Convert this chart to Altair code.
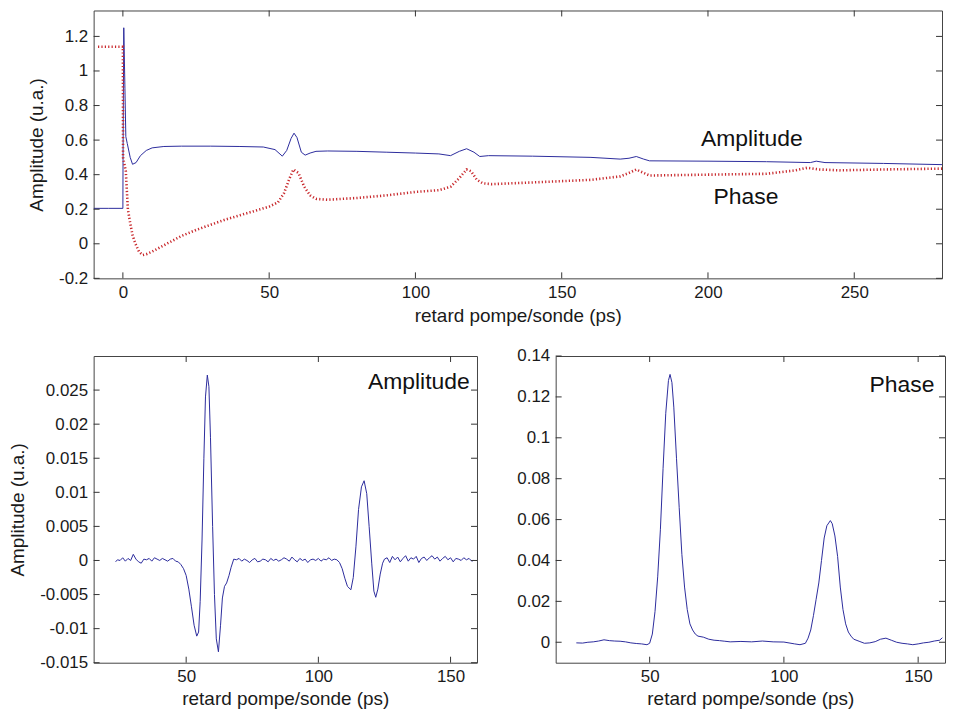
import altair as alt
import pandas as pd

FONT = "Liberation Sans"
BLUE = "#2b2b9c"
RED = "#c8282c"

# ---------------- top panel data ----------------
amp_x = [-10, -5, -0.3, 0.0, 0.05, 0.3, 0.7, 1.0, 1.5, 2.5, 3.3, 4.5, 6, 8, 10, 14, 20, 30, 40, 48, 52,
         54.5, 56, 57.5, 58.5, 59.5, 61, 62.3, 64, 66, 70, 80, 90, 100, 108, 112, 115, 117.5, 120,
         122, 125, 140, 160, 170, 173, 175.5, 178, 180, 200, 220, 235, 237, 240, 260, 280]
amp_y = [0.205, 0.205, 0.205, 0.205, 0.49, 1.25, 0.9, 0.62, 0.58, 0.5, 0.46, 0.47, 0.51, 0.54, 0.555,
         0.563, 0.565, 0.565, 0.563, 0.56, 0.545, 0.507, 0.54, 0.61, 0.64, 0.615, 0.53, 0.513, 0.525,
         0.535, 0.537, 0.535, 0.53, 0.525, 0.52, 0.51, 0.535, 0.55, 0.53, 0.505, 0.51, 0.507, 0.5,
         0.49, 0.495, 0.505, 0.49, 0.48, 0.478, 0.475, 0.47, 0.478, 0.47, 0.465, 0.458]

pha_x = [-8.5, -4, 0.0, 0.05, 1.0, 1.7, 2.5, 3.3, 4.3, 5.5, 6.7, 8, 10, 15, 20, 25, 30, 35, 40, 45, 50,
         53, 55, 57, 58.3, 60, 62, 64, 66, 70, 80, 90, 100, 108, 112, 115, 117.5, 119, 121, 123, 126,
         140, 160, 170, 173, 175.5, 178, 180, 200, 220, 230, 234, 238, 245, 260, 280]
pha_y = [1.14, 1.14, 1.14, 0.5, 0.42, 0.2, 0.12, 0.05, 0.0, -0.045, -0.065, -0.06, -0.045, 0.0, 0.045,
         0.08, 0.11, 0.14, 0.165, 0.19, 0.215, 0.24, 0.29, 0.38, 0.43, 0.41, 0.33, 0.28, 0.26, 0.255,
         0.265, 0.28, 0.3, 0.31, 0.33, 0.38, 0.43, 0.42, 0.37, 0.35, 0.345, 0.355, 0.37, 0.39, 0.41,
         0.43, 0.41, 0.395, 0.4, 0.405, 0.425, 0.44, 0.43, 0.425, 0.43, 0.435]

top_xticks = [0, 50, 100, 150, 200, 250]
top_yticks = [-0.2, 0, 0.2, 0.4, 0.6, 0.8, 1, 1.2]

# ---------------- bottom-left (amplitude difference), in segments ----------------
bl_x_a = [23.3] + list(range(24, 47))
bl_y_a = [-0.0002, 0.0001, 0.0, 0.0004, -0.0001, 0.0003, 0.0, 0.0009, 0.0002, -0.0002, -0.0004, 0.0002,
          0.0001, 0.0003, -0.0001, 0.0004, 0.0002, 0.0, 0.0003, 0.0001, -0.0001, 0.0002, 0.0003, -0.0001]
bl_x_b = [47, 48, 49, 50, 51, 52, 53, 54, 54.7, 55.3, 56, 56.7, 57.3, 58, 58.6, 59.2, 60, 60.7, 61.4, 62.2,
          63, 63.7, 64.5, 65.3, 66.2, 67, 68]
bl_y_b = [-0.0002, -0.0006, -0.0012, -0.0022, -0.0042, -0.0068, -0.0095, -0.0111, -0.0105, -0.006, 0.003,
          0.015, 0.024, 0.0272, 0.0255, 0.018, 0.005, -0.005, -0.0115, -0.0134, -0.0095, -0.0055, -0.0038,
          -0.0033, -0.0022, -0.001, 0.0002]
bl_x_c = list(range(69, 108))
bl_y_c = [0.0001, 0.0003, -0.0001, 0.0002, 0.0, -0.0003, 0.0001, 0.0003, -0.0002, -0.0001,
          0.0002, 0.0001, -0.0002, 0.0003, 0.0, 0.0002, -0.0001, 0.0001, 0.0004, 0.0002,
          -0.0001, 0.0005, 0.0001, -0.0002, 0.0003, 0.0, 0.0002, -0.0003, 0.0001, 0.0002,
          0.0, 0.0003, -0.0001, 0.0002, 0.0001, 0.0004, 0.0, 0.0002, 0.0001]
bl_x_d = [108, 109, 110, 111, 112.3, 113.2, 114.2, 115.2, 116.3, 117.3, 118.3, 119.2, 120.2, 121, 121.7,
          122.5, 123.4, 124.3, 125]
bl_y_d = [-0.0003, -0.0012, -0.0026, -0.0038, -0.0043, -0.0025, 0.002, 0.0075, 0.0108, 0.0117, 0.0098,
          0.005, -0.0005, -0.0045, -0.0054, -0.0042, -0.002, -0.0004, 0.0002]
bl_x_e = list(range(126, 159)) + [158.6]
bl_y_e = [0.0004, -0.0003, 0.0006, 0.0001, 0.0005, -0.0002, 0.0003, 0.0007, -0.0001, 0.0004,
          0.0002, 0.0006, -0.0003, 0.0003, 0.0005, 0.0, 0.0004, 0.0007, 0.0002, 0.0005,
          -0.0001, 0.0003, 0.0006, 0.0001, 0.0004, -0.0002, 0.0003, 0.0002, 0.0, 0.0004,
          0.0001, 0.0003, -0.0001, 0.0]
bl_x = bl_x_a + bl_x_b + bl_x_c + bl_x_d + bl_x_e
bl_y = bl_y_a + bl_y_b + bl_y_c + bl_y_d + bl_y_e

bl_xticks = [50, 100, 150]
bl_yticks = [-0.015, -0.01, -0.005, 0, 0.005, 0.01, 0.015, 0.02, 0.025]

# ---------------- bottom-right (phase difference) ----------------
br_x = [22.7, 25, 27, 29, 31, 33, 35, 37, 39, 41, 43, 45, 47, 49, 50, 51, 52, 53, 54, 55, 56, 57, 57.6,
        58.3, 59, 60, 61, 62, 63, 64, 65, 66, 67, 68, 70, 72, 74, 76, 78, 80, 84, 88, 92, 96, 100, 104,
        106, 108, 109, 110, 111, 112, 113, 114, 115, 116, 117.3, 118, 119, 120, 121, 122, 123, 124, 125,
        126, 128, 130, 132, 134, 136, 138, 140, 142, 144, 146, 148, 150, 152, 154, 156, 158, 159]
br_y = [-0.0003, -0.0004, 0.0, 0.0002, 0.0006, 0.0012, 0.0008, 0.0006, 0.0005, 0.0002, -0.0003, -0.0006,
        -0.0008, -0.0012, -0.0005, 0.004, 0.015, 0.032, 0.055, 0.085, 0.112, 0.128, 0.131, 0.127, 0.115,
        0.09, 0.066, 0.043, 0.027, 0.016, 0.009, 0.006, 0.004, 0.003, 0.0025, 0.0015, 0.001, 0.0008,
        0.0005, 0.0002, 0.0004, 0.0002, 0.0006, 0.0002, 0.0001, -0.0008, -0.0012, -0.0005, 0.002, 0.006,
        0.013, 0.021, 0.029, 0.04, 0.051, 0.057, 0.0595, 0.058, 0.052, 0.042, 0.027, 0.016, 0.009, 0.005,
        0.003, 0.0015, 0.0005, -0.0005, -0.0003, 0.0003, 0.0015, 0.002, 0.001, 0.0, -0.0005, -0.0008,
        -0.0012, -0.0008, -0.0003, 0.0, 0.0006, 0.001, 0.0022]

br_xticks = [50, 100, 150]
br_yticks = [0, 0.02, 0.04, 0.06, 0.08, 0.1, 0.12, 0.14]

XTITLE = "retard pompe/sonde (ps)"
YTITLE = "Amplitude (u.a.)"
TICK = 6


def series_df(xs, ys):
    return pd.DataFrame({"x": xs, "y": ys, "i": list(range(len(xs)))})


def panel(lines, xdom, ydom, xticks, yticks, W, H, ytitle, notes, tp_y, tp_x):
    xs = alt.Scale(domain=xdom, nice=False, zero=False)
    ys = alt.Scale(domain=ydom, nice=False, zero=False)
    xaxis = alt.Axis(values=xticks, title=XTITLE, labelExpr="'' + datum.value", titlePadding=tp_x)
    if ytitle:
        yaxis = alt.Axis(values=yticks, title=ytitle, labelExpr="'' + datum.value", titlePadding=tp_y)
    else:
        yaxis = alt.Axis(values=yticks, title=None, labelExpr="'' + datum.value")

    def X():
        return alt.X("x:Q", scale=xs, axis=xaxis)

    def Y():
        return alt.Y("y:Q", scale=ys, axis=yaxis)

    layers = []
    for df, style in lines:
        layers.append(alt.Chart(df).mark_line(clip=True, **style).encode(x=X(), y=Y(), order="i:Q"))
    tx = pd.DataFrame({"x": xticks})
    ty = pd.DataFrame({"y": yticks})
    for a, b in [(H, H - TICK), (0, TICK)]:
        layers.append(alt.Chart(tx).mark_rule(color="#333", strokeWidth=1).encode(
            x=X(), y=alt.value(a), y2=alt.value(b)))
    for a, b in [(0, TICK), (W, W - TICK)]:
        layers.append(alt.Chart(ty).mark_rule(color="#333", strokeWidth=1).encode(
            y=Y(), x=alt.value(a), x2=alt.value(b)))
    for (nx, ny, txt, size) in notes:
        nd = pd.DataFrame({"x": [nx], "y": [ny], "t": [txt]})
        layers.append(alt.Chart(nd).mark_text(font=FONT, fontSize=size, color="#111",
                                              align="center", baseline="middle").encode(
            x=X(), y=Y(), text="t:N"))
    return alt.layer(*layers).properties(width=W, height=H)


blue = dict(color=BLUE, strokeWidth=1)
red = dict(color=RED, strokeWidth=2.6, strokeDash=[1.2, 2.2])

top = panel([(series_df(amp_x, amp_y), blue), (series_df(pha_x, pha_y), red)],
            [-10, 280], [-0.2, 1.35], top_xticks, top_yticks, 852, 269, YTITLE,
            [(215, 0.605, "Amplitude", 23), (213, 0.27, "Phase", 23)], 12, 6)

bl = panel([(series_df(bl_x, bl_y), blue)], [15, 160], [-0.015, 0.03], bl_xticks, bl_yticks,
           385, 308, YTITLE, [(138, 0.0262, "Amplitude", 23)], 12, 5)

br = panel([(series_df(br_x, br_y), blue)], [15, 160], [-0.01, 0.14], br_xticks, br_yticks,
           391, 308, None, [(144, 0.126, "Phase", 23)], 12, 5)

chart = alt.vconcat(top, alt.hconcat(bl, br, spacing=38), spacing=20).properties(
    padding=0, background="white"
).configure_view(stroke="#444", strokeWidth=1).configure_axis(
    labelFont=FONT, titleFont=FONT, labelFontSize=17, titleFontSize=19, titleFontWeight="normal",
    labelColor="#1a1a1a", titleColor="#1a1a1a", grid=False, domain=False, ticks=False, tickSize=0,
    labelPadding=6
)

chart.save("out.html", embed_options={"renderer": "svg", "actions": False})
